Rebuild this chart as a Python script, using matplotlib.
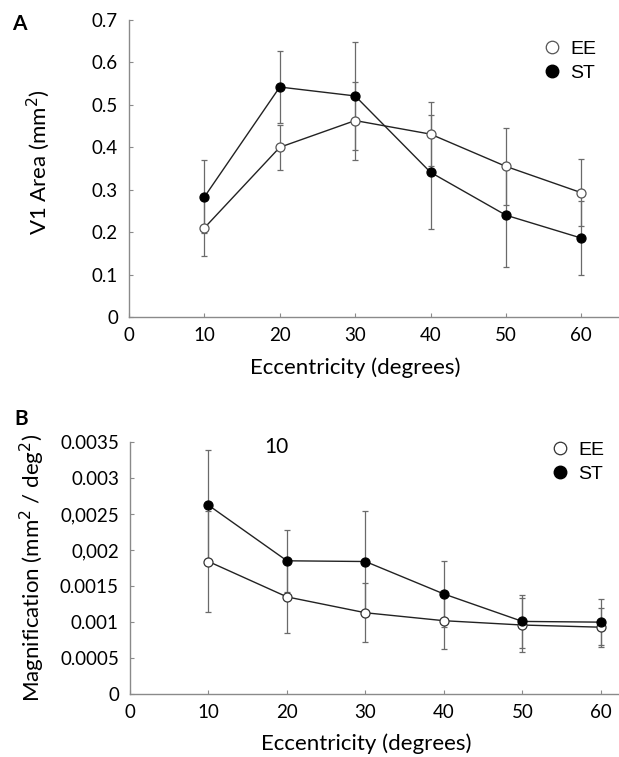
import numpy as np
import matplotlib
matplotlib.use("Agg")
import matplotlib.pyplot as plt
from matplotlib.lines import Line2D

plt.rcParams['font.family'] = ['Lato', 'DejaVu Sans']

ecc = [10, 20, 30, 40, 50, 60]

# Panel A: V1 area
area_ee = [0.210, 0.400, 0.463, 0.431, 0.355, 0.293]
area_ee_err = [0.065, 0.053, 0.092, 0.075, 0.091, 0.079]
area_st = [0.283, 0.542, 0.521, 0.341, 0.240, 0.186]
area_st_err = [0.086, 0.085, 0.128, 0.134, 0.123, 0.087]
area_yticks = [0, 0.1, 0.2, 0.3, 0.4, 0.5, 0.6, 0.7]
area_yticklabels = ['0', '0.1', '0.2', '0.3', '0.4', '0.5', '0.6', '0.7']

# Panel B: magnification
mag_ee = [0.00184, 0.00135, 0.00113, 0.00102, 0.00096, 0.00093]
mag_ee_err = [0.00070, 0.00050, 0.00041, 0.00039, 0.00038, 0.00027]
mag_st = [0.00262, 0.00185, 0.00184, 0.00139, 0.00101, 0.00100]
mag_st_err = [0.00076, 0.00043, 0.00070, 0.00046, 0.00037, 0.00032]
mag_yticks = [0, 0.0005, 0.001, 0.0015, 0.002, 0.0025, 0.003, 0.0035]
mag_yticklabels = ['0', '0.0005', '0.001', '0.0015', '0,002', '0,0025', '0.003', '0.0035']

xticks = [0, 10, 20, 30, 40, 50, 60]

axis_gray = '#8a8a8a'
err_gray = '#6a6a6a'


def style_axes(ax):
    for side in ['top', 'right']:
        ax.spines[side].set_visible(False)
    for side in ['left', 'bottom']:
        ax.spines[side].set_color(axis_gray)
        ax.spines[side].set_linewidth(1.0)
    ax.tick_params(direction='in', length=3, width=0.8, color=axis_gray,
                   labelsize=13.5)
    ax.tick_params(axis='y', pad=8)
    ax.tick_params(axis='x', pad=7)


def draw_series(ax, y_ee, e_ee, y_st, e_st, ee_edge):
    ax.errorbar(ecc, y_ee, yerr=e_ee, fmt='none', ecolor=err_gray,
                elinewidth=0.9, capsize=2.5, capthick=0.9, zorder=1)
    ax.errorbar(ecc, y_st, yerr=e_st, fmt='none', ecolor=err_gray,
                elinewidth=0.9, capsize=2.5, capthick=0.9, zorder=1)
    ax.plot(ecc, y_ee, color='#222222', lw=1.0, marker='o', ms=6.5,
            mfc='white', mec=ee_edge, mew=0.9, zorder=3)
    ax.plot(ecc, y_st, color='#222222', lw=1.0, marker='o', ms=6.5,
            mfc='black', mec='black', mew=0.9, zorder=3)


def add_legend(ax, fig, x, y, ee_edge):
    handles = [Line2D([], [], ls='none', marker='o', ms=9, mfc='white',
                      mec=ee_edge, mew=0.9),
               Line2D([], [], ls='none', marker='o', ms=9, mfc='black',
                      mec='black')]
    ax.legend(handles, ['EE', 'ST'], loc='upper left',
              bbox_to_anchor=(x, y), bbox_transform=fig.transFigure,
              frameon=False, handlelength=1.0, handletextpad=0.45,
              borderpad=0, borderaxespad=0, labelspacing=0.35,
              prop={'family': 'Liberation Sans', 'size': 14})


fig = plt.figure(figsize=(6.19, 7.57), dpi=100)

# Panel A
axA = fig.add_axes([0.2084, 0.5812, 0.7916, 0.3924])
draw_series(axA, area_ee, area_ee_err, area_st, area_st_err, '#555555')
axA.set_xlim(0, 65)
axA.set_ylim(0, 0.7)
axA.set_xticks(xticks)
axA.set_yticks(area_yticks)
axA.set_yticklabels(area_yticklabels)
style_axes(axA)
axA.set_xlabel('Eccentricity (degrees)', fontsize=16, va='baseline')
axA.xaxis.set_label_coords(0.461, -0.192)
axA.set_ylabel('V1 Area (mm$^2$)', fontsize=16)
axA.yaxis.set_label_coords(-0.157, 0.522)
add_legend(axA, fig, 1 - 77 / 619, 1 - 40 / 757, '#555555')
fig.text(0.019, 1 - 30 / 757, 'A', fontsize=15, fontweight='bold',
         va='baseline')

# Panel B
axB = fig.add_axes([0.21, 0.0828, 0.79, 0.3337])
draw_series(axB, mag_ee, mag_ee_err, mag_st, mag_st_err, '#333333')
axB.set_xlim(0, 62.3)
axB.set_ylim(0, 0.0035)
axB.set_xticks(xticks)
axB.set_yticks(mag_yticks)
axB.set_yticklabels(mag_yticklabels)
style_axes(axB)
axB.set_xlabel('Eccentricity (degrees)', fontsize=16, va='baseline')
axB.xaxis.set_label_coords(0.483, -0.2205)
axB.set_ylabel('Magnification (mm$^2$ / deg$^2$)', fontsize=16)
axB.yaxis.set_label_coords(-0.17, 0.5)
axB.text(18.7, 0.00342, '10', fontsize=15, ha='center', va='center')
add_legend(axB, fig, 1 - 69 / 619, 1 - 441 / 757, '#333333')
fig.text(0.024, 1 - 425 / 757, 'B', fontsize=15, fontweight='bold',
         va='baseline')

fig.savefig('out.png', dpi=100)
